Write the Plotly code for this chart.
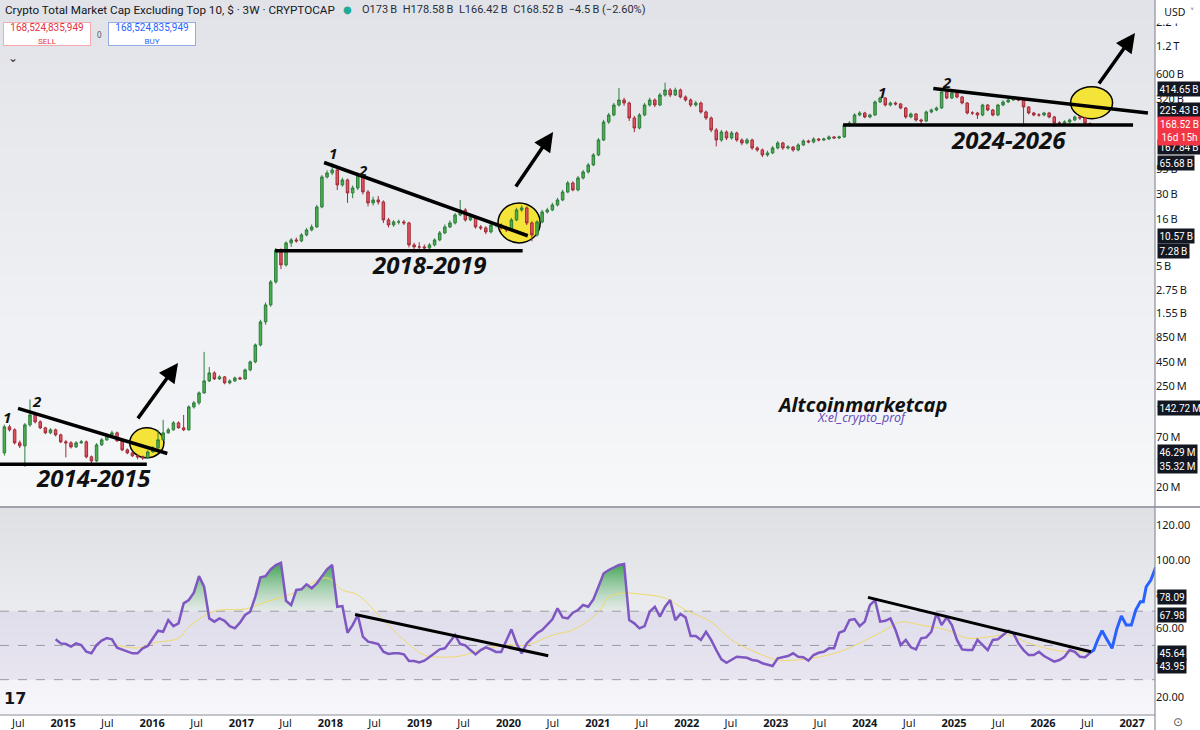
import numpy as np
import pandas as pd
import plotly.graph_objects as go

# ---------------- data (values in billions USD) ----------------
FIRST_OPEN = 0.0470
LAST_OPEN = 173.0
CLOSE = [0.0900, 0.0835, 0.0604, 0.0560, 0.0946, 0.1213, 0.1019, 0.0878, 0.0775, 0.0835,
         0.0737, 0.0619, 0.0604, 0.0546, 0.0604, 0.0619, 0.0426, 0.0385, 0.0574, 0.0651,
         0.0737, 0.0775, 0.0635, 0.0507, 0.0470, 0.0437, 0.0426, 0.0416, 0.0482, 0.0533,
         0.0651, 0.0775, 0.0835, 0.0994, 0.0878, 0.0835, 0.1481, 0.1637, 0.2100, 0.2832,
         0.3457, 0.2977, 0.3129, 0.2695, 0.2832, 0.3052, 0.2977, 0.3726, 0.4548, 0.6948,
         1.233, 1.884, 3.342, 7.421, 5.106, 8.837, 9.523, 9.288, 10.79, 12.22,
         13.17, 21.68, 45.80, 50.60, 54.53, 37.52, 42.50, 30.73, 34.82, 48.14,
         31.51, 23.95, 25.81, 24.55, 15.68, 13.84, 14.92, 14.92, 14.55, 8.407,
         8.00, 8.00, 7.80, 8.407, 9.523, 11.34, 13.17, 14.55, 17.76, 20.12,
         15.68, 16.90, 13.17, 12.85, 11.63, 13.84, 13.84, 12.85, 12.22, 15.68,
         20.12, 21.15, 14.55, 10.79, 14.92, 19.14, 20.12, 22.79, 25.81, 31.51,
         39.44, 33.12, 44.67, 51.88, 61.77, 79.26, 115.2, 180.4, 214.8, 275.6,
         312.2, 289.7, 199.3, 155.3, 214.8, 275.6, 312.2, 275.6, 353.7, 400.6,
         353.7, 400.6, 336.5, 312.2, 275.6, 289.7, 231.5, 199.3, 147.8, 115.2,
         140.6, 121.1, 137.2, 115.2, 106.9, 115.2, 94.4, 89.78, 79.26, 83.31,
         94.4, 106.9, 94.4, 96.75, 89.78, 101.7, 112.4, 109.6, 118.1, 115.2,
         118.1, 124.2, 121.1, 124.2, 167.4, 175.9, 214.8, 225.8, 204.4, 214.8,
         297.0, 328.2, 275.6, 289.7, 282.6, 255.7, 204.4, 220.2, 189.6, 184.9,
         231.5, 243.3, 255.7, 381.1, 328.2, 371.7, 336.5, 289.7, 225.8, 225.8,
         214.8, 275.6, 243.3, 214.8, 275.6, 297.0, 312.2, 320.1, 312.2, 262.2,
         225.8, 214.8, 214.8, 225.8, 204.4, 175.9, 175.9, 180.4, 189.6, 204.4,
         199.3, 175.9, 168.52]
HIGH = [0.0950, 0.0950, 0.0870, 0.0640, 0.0990, 0.1780, 0.1280, 0.1060, 0.0900, 0.0870,
        0.0860, 0.0760, 0.0650, 0.0630, 0.0630, 0.0650, 0.0640, 0.0440, 0.0600, 0.0680,
        0.0770, 0.0820, 0.0800, 0.0650, 0.0525, 0.0485, 0.0450, 0.0440, 0.0500, 0.0555,
        0.0835, 0.1071, 0.0880, 0.1040, 0.1030, 0.1213, 0.1540, 0.1720, 0.2180, 0.5835,
        0.4000, 0.3600, 0.3250, 0.3200, 0.2950, 0.3150, 0.3150, 0.3850, 0.4700, 0.7200,
        1.30, 2.00, 3.50, 7.80, 7.70, 9.20, 10.0, 10.1, 11.3, 12.8,
        14.0, 22.8, 48.0, 54.0, 64.9, 57.0, 45.0, 44.0, 37.0, 51.0,
        50.0, 33.0, 28.0, 28.5, 25.5, 16.5, 15.6, 15.8, 15.7, 15.0,
        8.9, 9.0, 8.5, 8.8, 9.9, 11.9, 14.0, 15.5, 18.6, 25.8,
        21.0, 17.8, 17.5, 13.8, 13.4, 14.5, 14.6, 14.4, 13.5, 16.5,
        21.2, 22.5, 22.0, 15.2, 15.6, 20.2, 21.2, 24.0, 27.2, 33.2,
        41.5, 41.0, 47.0, 54.5, 65.0, 83.0, 121, 190, 226, 290,
        420, 330, 300, 210, 225, 290, 330, 325, 372, 480,
        420, 425, 415, 350, 325, 305, 300, 240, 207, 155,
        148, 146, 144, 142, 120, 121, 119, 98, 93, 88,
        99, 112, 110, 101, 99, 106, 117, 116, 123, 121,
        122, 129, 127, 128, 174, 184, 224, 236, 232, 222,
        308, 340, 335, 300, 300, 290, 262, 228, 226, 196,
        240, 252, 265, 395, 395, 385, 380, 345, 296, 236,
        232, 284, 282, 250, 284, 310, 322, 330, 330, 320,
        268, 232, 224, 232, 232, 210, 184, 188, 196, 212,
        208, 205, 178.58]
LOW = [0.0440, 0.0800, 0.0580, 0.0530, 0.0332, 0.0900, 0.0980, 0.0850, 0.0750, 0.0750,
       0.0710, 0.0600, 0.0420, 0.0525, 0.0530, 0.0590, 0.0410, 0.0365, 0.0375, 0.0560,
       0.0635, 0.0720, 0.0620, 0.0490, 0.0455, 0.0425, 0.0400, 0.0395, 0.0405, 0.0470,
       0.0520, 0.0640, 0.0760, 0.0820, 0.0860, 0.0810, 0.0820, 0.1420, 0.1560, 0.2050,
       0.2750, 0.2900, 0.2900, 0.2600, 0.2600, 0.2750, 0.2900, 0.2900, 0.3600, 0.4400,
       0.6700, 1.150, 1.800, 3.200, 4.600, 4.900, 8.0, 8.9, 9.0, 10.4,
       11.8, 12.9, 21.0, 44.0, 48.0, 33.0, 36.0, 24.0, 27.0, 33.0,
       29.5, 22.0, 22.5, 23.0, 14.5, 13.0, 13.2, 14.0, 13.8, 7.9,
       6.9, 7.4, 7.3, 7.5, 8.1, 9.2, 11.0, 12.8, 14.0, 17.2,
       15.0, 15.2, 12.6, 12.2, 11.0, 11.2, 13.0, 12.3, 11.6, 11.8,
       15.2, 19.2, 13.8, 9.2, 10.3, 14.4, 18.4, 19.5, 22.0, 25.0,
       30.5, 32.0, 32.0, 43.0, 50.0, 60.0, 77, 112, 172, 208,
       265, 270, 185, 140, 150, 208, 265, 262, 268, 340,
       335, 345, 325, 300, 262, 265, 222, 190, 140, 98,
       110, 115, 116, 110, 101, 103, 90, 86, 75, 76,
       81, 91, 90, 91, 86, 87, 99, 106, 106, 111,
       112, 115, 118, 118, 121, 160, 171, 208, 198, 198,
       210, 290, 266, 266, 272, 248, 196, 198, 182, 165,
       180, 224, 236, 250, 318, 320, 325, 280, 218, 215,
       195, 208, 236, 208, 208, 268, 290, 305, 303, 165,
       218, 208, 206, 208, 198, 160, 168, 172, 175, 184,
       190, 170, 166.42]
OPEN = [FIRST_OPEN] + CLOSE[:-2] + [LAST_OPEN]

RSI = [53.6, 51.2, 50.8, 49.3, 51.2, 50.2, 46.3, 45.4, 50.2, 52.8,
       54.3, 53.6, 48.7, 47.7, 46.7, 45.4, 45.4, 48.3, 49.7,
       53.8, 58.6, 58.0, 64.8, 61.3, 62.9, 74.6, 76.5, 80.8, 90.5,
       84.3, 65.8, 63.9, 65.8, 64.4, 61.3, 60.0, 63.3, 67.8, 69.7,
       78.5, 89.8, 90.5, 94.5, 97.0, 98.3, 76.1, 73.6, 82.4, 82.8,
       85.7, 83.4, 86.3, 90.1, 94.5, 97.0, 72.6, 73.0, 57.4,
       61.9, 67.8, 55.1, 52.2, 51.6, 50.8, 46.3, 45.0, 45.4, 45.4,
       44.8, 40.9, 40.9, 40.1, 41.1, 43.1, 45.4, 47.7, 48.3,
       52.2, 56.1, 50.8, 50.1, 47.3, 44.8, 47.3, 48.9, 47.7,
       46.2, 46.2, 53.2, 59.4, 51.2, 45.4, 51.2, 54.2, 57.1, 59.0,
       61.9, 65.3, 71.7, 66.4, 65.8, 69.1, 70.7, 73.6, 72.6, 76.9,
       84.3, 92.0, 94.1, 95.6, 97.0, 97.6, 64.8, 62.9, 60.0, 61.3,
       69.7, 72.6, 66.8, 72.6, 76.5, 64.8, 68.4, 66.4, 55.5, 55.5,
       53.2, 58.0, 53.2, 47.3, 41.9, 39.9, 41.5, 43.4, 43.1, 42.8,
       41.5, 41.1, 39.6, 38.6, 38.0, 42.5, 43.1, 43.8,
       45.4, 43.4, 43.1, 41.1, 44.4, 45.7, 46.3, 48.3, 48.3,
       57.4, 58.6, 64.8, 65.4, 61.3, 63.9, 73.6, 76.5, 63.9, 64.4,
       65.8, 59.0, 50.2, 53.2, 48.9, 47.7, 54.2, 54.7, 58.0, 68.8,
       61.9, 66.4, 61.9, 53.2, 47.7, 47.3, 47.3, 53.2, 50.2, 47.3,
       53.2, 53.6, 56.1, 58.6, 57.1, 51.2, 47.3, 44.4, 44.4, 46.3,
       43.8, 41.9, 40.5, 41.5, 43.4, 47.3, 46.3, 43.4, 43.1, 45.64]

MA_IDX = [22, 26, 29, 34, 36, 40, 42, 47, 51, 56, 59, 63, 66, 69, 74, 78, 82, 85, 89, 93,
          98, 102, 107, 111, 116, 118, 121, 124, 129, 133, 138, 142, 148, 151, 155, 159, 163,
          167, 172, 175, 179, 184, 188, 192, 196, 200, 205, 209, 212]
MA_VAL = [50.2, 48.5, 51.4, 54.3, 60.8, 68.9, 70.7, 71.3, 75.4, 80.0, 84.7, 89.4, 82.4, 79.5,
          64.8, 53.2, 44.4, 43.2, 43.8, 47.3, 50.2, 50.2, 56.1, 59.0, 69.5, 78.3, 80.6, 80.0,
          77.7, 70.7, 63.7, 53.2, 44.4, 41.5, 41.5, 43.2, 46.2, 51.4, 59.0, 63.7, 61.9, 59.0,
          54.3, 54.9, 56.1, 51.4, 47.3, 46.2, 46.2]

PROJ_DATES = ["2026-07-12", "2026-07-28", "2026-08-13", "2026-08-31", "2026-09-21", "2026-10-11",
              "2026-10-30", "2026-11-18", "2026-12-08", "2026-12-29", "2027-01-16", "2027-02-04",
              "2027-02-16", "2027-02-28", "2027-03-19", "2027-04-08"]
PROJ_RSI = [45.64, 47.3, 53.2, 58.6, 53.2, 48.3, 59.4, 67.2, 61.9, 61.9, 70.7, 75.5, 75.5,
            84.3, 88.2, 95.6]

# hand-drawn annotations (dates, values in billions)
SUP_X0 = ["2014-04-01", "2017-05-19", "2023-10-04"]
SUP_X1 = ["2015-12-10", "2020-02-28", "2027-01-05"]
SUP_Y = [0.03532, 7.28, 167.84]
RES_X0 = ["2014-06-30", "2017-12-06", "2024-10-08"]
RES_Y0 = [0.14272, 65.68, 414.65]
RES_X1 = ["2016-03-03", "2020-03-20", "2027-03-07"]
RES_Y1 = [0.04629, 10.57, 225.43]
CIRC_X0 = ["2015-10-01", "2019-11-19", "2026-04-24"]
CIRC_X1 = ["2016-02-18", "2020-05-10", "2026-10-13"]
CIRC_Y0 = [0.0416, 8.84, 196.0]
CIRC_Y1 = [0.0878, 23.95, 435.0]
ARR_X0 = ["2015-10-30", "2020-01-27", "2026-08-14"]
ARR_Y0 = [0.1071, 34.8, 453.8]
ARR_X1 = ["2016-04-16", "2020-07-02", "2027-01-13"]
ARR_Y1 = [0.4436, 140.6, 1660.0]
NUM_TEXT = ["1", "2", "1", "2", "1", "2"]
NUM_X = ["2014-05-15", "2014-09-15", "2018-01-12", "2018-05-15", "2024-03-10", "2024-12-02"]
NUM_Y = [0.1162, 0.1734, 83.3, 54.53, 383.8, 492.5]
PERIOD_TEXT = ["2014-2015", "2018-2019", "2024-2026"]
PERIOD_X = ["2015-05-04", "2019-02-10", "2025-08-11"]
PERIOD_Y = [0.0252, 5.106, 115.2]
WM_X = "2023-12-20"
WM_Y = [0.1557, 0.1126]
WM_TEXT = ["Altcoinmarketcap", "X:el_crypto_prof"]

RSI_TL_X0 = ["2018-04-12", "2024-01-14"]
RSI_TL_Y0 = [68.1, 78.09]
RSI_TL_X1 = ["2020-06-12", "2026-07-16"]
RSI_TL_Y1 = [44.0, 46.3]

# axes
X_START, X_END = "2014-04-17", "2027-04-05"
XTICK_VALS = ["2014-07-01", "2015-01-01", "2015-07-01", "2016-01-01", "2016-07-01", "2017-01-01",
              "2017-07-01", "2018-01-01", "2018-07-01", "2019-01-01", "2019-07-01", "2020-01-01",
              "2020-07-01", "2021-01-01", "2021-07-01", "2022-01-01", "2022-07-01", "2023-01-01",
              "2023-07-01", "2024-01-01", "2024-07-01", "2025-01-01", "2025-07-01", "2026-01-01",
              "2026-07-01", "2027-01-01"]
XTICK_TEXT = ["Jul", "<b>2015</b>", "Jul", "<b>2016</b>", "Jul", "<b>2017</b>", "Jul", "<b>2018</b>",
              "Jul", "<b>2019</b>", "Jul", "<b>2020</b>", "Jul", "<b>2021</b>", "Jul", "<b>2022</b>",
              "Jul", "<b>2023</b>", "Jul", "<b>2024</b>", "Jul", "<b>2025</b>", "Jul", "<b>2026</b>",
              "Jul", "<b>2027</b>"]
YTICK_VALS = [2200, 1200, 600, 320, 55, 30, 16, 5, 2.75, 1.55, 0.85, 0.45, 0.25, 0.14, 0.07, 0.02]
YTICK_TEXT = ["2.2\u2009T", "1.2\u2009T", "600\u2009B", "320\u2009B", "55\u2009B", "30\u2009B",
              "16\u2009B", "5\u2009B", "2.75\u2009B", "1.55\u2009B", "850\u2009M", "450\u2009M",
              "250\u2009M", "140\u2009M", "70\u2009M", "20\u2009M"]
RSI_TICKS = [20, 40, 60, 80, 100, 120]
RSI_TICK_TEXT = ["20.00", "40.00", "60.00", "80.00", "100.00", "120.00"]

PRICE_BADGES = [(414.65, "414.65\u2009B", 0), (225.43, "225.43\u2009B", 3),
                (167.84, "167.84\u2009B", -22), (65.68, "65.68\u2009B", 0),
                (10.57, "10.57\u2009B", 0), (7.28, "7.28\u2009B", 0),
                (0.14272, "142.72\u2009M", 0), (0.04629, "46.29\u2009M", 2),
                (0.03532, "35.32\u2009M", -2)]
LAST_PRICE = 168.52
RSI_BADGES = [(78.09, "78.09", 0), (67.98, "67.98", 0), (45.64, "45.64", 0), (43.95, "43.95", -10)]

# ---------------- figure ----------------
FONT = "Noto Sans, DejaVu Sans, sans-serif"
BADGE_FONT = "Roboto, Noto Sans, sans-serif"
H_PLOT = 715.0
W_PLOT = 1155.0


def py(p):
    return (H_PLOT - p) / H_PLOT


def px(p):
    return p / W_PLOT


DATES = pd.date_range("2014-05-05", periods=len(CLOSE), freq="21D")
RSI_DATES = DATES[len(CLOSE) - len(RSI):]
rsi_arr = np.array(RSI)

fig = go.Figure()

fig.add_trace(go.Candlestick(
    x=DATES, open=OPEN, high=HIGH, low=LOW, close=CLOSE,
    increasing=dict(line=dict(color="#2f7d3e", width=1), fillcolor="#4caf50"),
    decreasing=dict(line=dict(color="#a12c38", width=1), fillcolor="#e25563"),
    whiskerwidth=0, xaxis="x", yaxis="y", showlegend=False, hoverinfo="skip"))

for i in range(3):
    fig.add_trace(go.Scatter(x=[SUP_X0[i], SUP_X1[i]], y=[SUP_Y[i], SUP_Y[i]], mode="lines",
                             line=dict(color="black", width=3.5), xaxis="x", yaxis="y",
                             showlegend=False, hoverinfo="skip"))
    fig.add_trace(go.Scatter(x=[RES_X0[i], RES_X1[i]], y=[RES_Y0[i], RES_Y1[i]], mode="lines",
                             line=dict(color="black", width=3.5), xaxis="x", yaxis="y",
                             showlegend=False, hoverinfo="skip"))

# RSI panel
fig.add_trace(go.Scatter(x=RSI_DATES, y=np.full(len(RSI), 70.0), mode="lines", line=dict(width=0),
                         xaxis="x2", yaxis="y2", showlegend=False, hoverinfo="skip"))
fig.add_trace(go.Scatter(x=RSI_DATES, y=np.maximum(rsi_arr, 70.0), mode="lines", line=dict(width=0),
                         fill="tonexty",
                         fillgradient=dict(type="vertical", start=70, stop=100,
                                           colorscale=[[0, "rgba(120,200,130,0.05)"],
                                                       [1, "rgba(40,150,60,0.95)"]]),
                         xaxis="x2", yaxis="y2", showlegend=False, hoverinfo="skip"))
fig.add_trace(go.Scatter(x=DATES[MA_IDX], y=MA_VAL, mode="lines",
                         line=dict(color="#efd96a", width=1, shape="spline", smoothing=1),
                         xaxis="x2", yaxis="y2", showlegend=False, hoverinfo="skip"))
fig.add_trace(go.Scatter(x=RSI_DATES, y=RSI, mode="lines", line=dict(color="#7e57c2", width=2.5),
                         xaxis="x2", yaxis="y2", showlegend=False, hoverinfo="skip"))
fig.add_trace(go.Scatter(x=PROJ_DATES, y=PROJ_RSI, mode="lines", line=dict(color="#2962ff", width=3),
                         xaxis="x2", yaxis="y2", showlegend=False, hoverinfo="skip"))
for i in range(2):
    fig.add_trace(go.Scatter(x=[RSI_TL_X0[i], RSI_TL_X1[i]], y=[RSI_TL_Y0[i], RSI_TL_Y1[i]],
                             mode="lines", line=dict(color="black", width=3), xaxis="x2", yaxis="y2",
                             showlegend=False, hoverinfo="skip"))

# ---------------- shapes ----------------
shapes = []


def lerp(c0, c1, t):
    return "rgb(%d,%d,%d)" % tuple(round(c0[k] + (c1[k] - c0[k]) * t) for k in range(3))


def gradient(p_top, p_bot, c0, c1, n=24):
    step = (p_bot - p_top) / n
    for k in range(n):
        shapes.append(dict(type="rect", xref="paper", yref="paper", x0=0, x1=1,
                           y0=py(p_top + k * step), y1=py(p_top + (k + 1) * step + 0.6),
                           fillcolor=lerp(c0, c1, (k + 0.5) / n), line=dict(width=0), layer="below"))


gradient(0, 507, (225, 227, 232), (247, 248, 250))
gradient(507, 715, (221, 223, 228), (248, 248, 251))
shapes.append(dict(type="rect", xref="paper", yref="y2", x0=0, x1=1, y0=30, y1=70,
                   fillcolor="rgba(126,87,194,0.09)", line=dict(width=0), layer="below"))
for lv in (70, 50, 30):
    shapes.append(dict(type="line", xref="paper", yref="y2", x0=0, x1=1, y0=lv, y1=lv,
                       line=dict(color="#9a9ca5", width=1, dash="dash"), layer="below"))
for i in range(3):
    shapes.append(dict(type="circle", xref="x", yref="y", x0=CIRC_X0[i], x1=CIRC_X1[i],
                       y0=CIRC_Y0[i], y1=CIRC_Y1[i],
                       fillcolor="#f4e338", line=dict(color="black", width=1.5), layer="below"))
# frame lines
shapes.append(dict(type="line", xref="paper", yref="paper", x0=0, x1=1200 / W_PLOT,
                   y0=py(507), y1=py(507), line=dict(color="#9fa2ab", width=2)))
shapes.append(dict(type="line", xref="paper", yref="paper", x0=1, x1=1, y0=py(0), y1=py(730),
                   line=dict(color="#8c8f98", width=1.2)))
shapes.append(dict(type="line", xref="paper", yref="paper", x0=0, x1=1, y0=py(715), y1=py(715),
                   line=dict(color="#8c8f98", width=1.2)))

# ---------------- annotations ----------------
ann = []
for i in range(3):
    ann.append(dict(x=ARR_X1[i], y=np.log10(ARR_Y1[i]), ax=ARR_X0[i], ay=np.log10(ARR_Y0[i]),
                    xref="x", yref="y", axref="x", ayref="y", text="", showarrow=True,
                    arrowhead=2, arrowsize=1.1, arrowwidth=3.5, arrowcolor="black"))
    ann.append(dict(x=PERIOD_X[i], y=np.log10(PERIOD_Y[i]), xref="x", yref="y", showarrow=False,
                    xanchor="center", yanchor="middle",
                    text="<b><i>%s</i></b>" % PERIOD_TEXT[i],
                    font=dict(family=FONT, size=24, color="#111111")))
for i in range(6):
    ann.append(dict(x=NUM_X[i], y=np.log10(NUM_Y[i]), xref="x", yref="y", showarrow=False,
                    xanchor="center", yanchor="middle",
                    text="<b><i>%s</i></b>" % NUM_TEXT[i],
                    font=dict(family=FONT, size=15, color="#111111")))
ann.append(dict(x=WM_X, y=np.log10(WM_Y[0]), xref="x", yref="y", showarrow=False,
                xanchor="center", yanchor="middle",
                text="<b><i>%s</i></b>" % WM_TEXT[0], font=dict(family=FONT, size=20, color="#111111")))
ann.append(dict(x=WM_X, y=np.log10(WM_Y[1]), xref="x", yref="y", showarrow=False,
                xanchor="center", yanchor="middle",
                text="<i>%s</i>" % WM_TEXT[1], font=dict(family=FONT, size=12.5, color="#6b4fbb")))

for v, t, s in PRICE_BADGES:
    ann.append(dict(x=1, xref="paper", xanchor="left", xshift=2, y=np.log10(v), yref="y", yshift=s,
                    yanchor="middle", text=t, showarrow=False, bgcolor="#131722", borderpad=1.5,
                    font=dict(family=BADGE_FONT, size=10, color="white")))
ann.append(dict(x=1, xref="paper", xanchor="left", xshift=2, y=np.log10(LAST_PRICE), yref="y",
                yshift=-6, yanchor="middle", text="168.52\u2009B<br>16d 15h", showarrow=False,
                bgcolor="#f23645", borderpad=2, align="center",
                font=dict(family=BADGE_FONT, size=10, color="white")))
for v, t, s in RSI_BADGES:
    ann.append(dict(x=1, xref="paper", xanchor="left", xshift=2, y=v, yref="y2", yshift=s,
                    yanchor="middle", text=t, showarrow=False, bgcolor="#131722", borderpad=1.5,
                    font=dict(family=BADGE_FONT, size=10, color="white")))

# header
ann.append(dict(x=px(3), y=py(10), xref="paper", yref="paper", xanchor="left", yanchor="middle",
                showarrow=False, text="Crypto Total Market Cap Excluding Top 10, $ · 3W · CRYPTOCAP",
                font=dict(family="Roboto, " + FONT, size=11.7, color="#131722")))
ann.append(dict(x=px(347), y=py(10), xref="paper", yref="paper", xanchor="center", yanchor="middle",
                showarrow=False, text="●", font=dict(family="DejaVu Sans", size=10, color="#22ab94")))
ann.append(dict(x=px(360), y=py(10), xref="paper", yref="paper", xanchor="left", yanchor="middle",
                showarrow=False,
                text="O173\u2009B  H178.58\u2009B  L166.42\u2009B  C168.52\u2009B  −4.5\u2009B (−2.60%)",
                font=dict(family="Roboto, " + FONT, size=11, color="#2a2e39")))
ann.append(dict(x=px(47), y=py(34), xref="paper", yref="paper", xanchor="center", yanchor="middle",
                showarrow=False, width=86, height=22,
                text="168,524,835,949<br><span style='font-size:8px'>SELL</span>", bgcolor="white",
                bordercolor="#f7a9b0", borderwidth=1, borderpad=0,
                font=dict(family=BADGE_FONT, size=10, color="#e0313f")))
ann.append(dict(x=px(152), y=py(34), xref="paper", yref="paper", xanchor="center", yanchor="middle",
                showarrow=False, width=86, height=22,
                text="168,524,835,949<br><span style='font-size:8px'>BUY</span>", bgcolor="white",
                bordercolor="#94abe8", borderwidth=1, borderpad=0,
                font=dict(family=BADGE_FONT, size=10, color="#2962ff")))
ann.append(dict(x=px(99.5), y=py(34), xref="paper", yref="paper", xanchor="center", yanchor="middle",
                showarrow=False, text="0", font=dict(family=FONT, size=8, color="#555")))
ann.append(dict(x=px(13), y=py(58), xref="paper", yref="paper", xanchor="center", yanchor="middle",
                showarrow=False, text="⌄", font=dict(family="DejaVu Sans", size=12, color="#333")))
ann.append(dict(x=1, y=1, xref="paper", yref="paper", xanchor="left", yanchor="top", xshift=1,
                showarrow=False, text="USD  ˅", width=42, height=20, bgcolor="white",
                font=dict(family=FONT, size=10.5, color="#131722")))
ann.append(dict(x=px(15), y=py(698), xref="paper", yref="paper", xanchor="center", yanchor="middle",
                showarrow=False, text="<b>17</b>",
                font=dict(family="DejaVu Sans", size=16, color="#131722")))
ann.append(dict(x=px(1178), y=py(722), xref="paper", yref="paper", xanchor="center", yanchor="middle",
                showarrow=False, text="⊙", font=dict(family="DejaVu Sans", size=12, color="#555")))

axis_font = dict(family=FONT, size=11, color="#131722")
fig.update_layout(
    width=1200, height=730, margin=dict(l=0, r=45, t=0, b=15),
    paper_bgcolor="white", plot_bgcolor="#eceef1", showlegend=False,
    xaxis=dict(domain=[0, 1], anchor="y", type="date", range=[X_START, X_END], matches="x2",
               showticklabels=False, showgrid=False, zeroline=False, rangeslider=dict(visible=False)),
    xaxis2=dict(domain=[0, 1], anchor="y2", type="date", range=[X_START, X_END], tickmode="array",
                tickvals=XTICK_VALS, ticktext=XTICK_TEXT, showgrid=False, zeroline=False, ticks="",
                tickfont=axis_font),
    yaxis=dict(domain=[py(506), 1], type="log", range=[-1.903, 3.5774], side="right",
               tickmode="array", tickvals=YTICK_VALS, ticktext=YTICK_TEXT, showgrid=False,
               zeroline=False, ticks="", tickfont=axis_font),
    yaxis2=dict(domain=[0, py(508)], range=[9.36, 130.3], side="right", tickmode="array",
                tickvals=RSI_TICKS, ticktext=RSI_TICK_TEXT, showgrid=False, zeroline=False,
                ticks="", tickfont=axis_font),
    shapes=shapes, annotations=ann,
)

fig.write_html("out.html")
